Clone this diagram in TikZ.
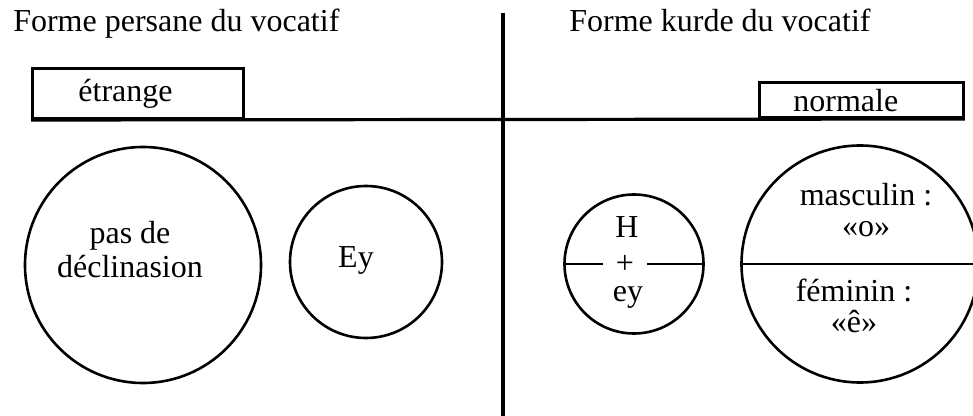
\documentclass[tikz,border=0pt]{standalone}
\usepackage{fontspec}
\setmainfont{Liberation Serif}
\usetikzlibrary{positioning}

\begin{document}
\begin{tikzpicture}[x=0.5pt, y=-0.5pt, line width=1.3pt,
    every node/.style={font=\fontsize{16}{17}\selectfont, inner sep=0pt},
    rond/.style={draw, circle, inner sep=0pt, line width=1.3pt},
    cadre/.style={draw, rectangle, inner ysep=0pt, align=left, anchor=south west, line width=1.4pt}]
    \useasboundingbox (0,0) rectangle (973,416);
    \clip (0,0) rectangle (973,416);

    % Titles of the two halves
    \node[anchor=base west] (titrepersan) at (12,32) {Forme persane du vocatif};
    \node[anchor=base west] (titrekurde) at (568,32) {Forme kurde du vocatif};

    % Boxes sitting on the horizontal line
    \node[cadre, text width=59.5pt, inner xsep=23pt, minimum height=25pt] (etrange) at (31,120) {étrange};
    \node[cadre, text width=68pt, inner xsep=17pt, minimum height=17.5pt] (normale) at (758,119) {normale};

    % Separating lines
    \coordinate (axetop) at (503,13);
    \coordinate (axebot) at (503,416);
    \draw[line width=1.6pt] (axetop) -- (axebot);
    \draw[line width=1.6pt] (etrange.south west) -- (normale.south east);

    % Persian side
    \node[rond, minimum size=118pt] (persan) at (143,265) {};
    \node[align=center] (decl) at (130,250) {pas de\\déclinasion};
    \node[rond, minimum size=76pt] (ey) at (366,262) {};
    \node[anchor=base] (eytxt) at (356,268) {Ey};

    % Kurdish side
    \node[rond, minimum size=69.5pt] (hey) at (634,264) {};
    \node[minimum width=20.5pt] (plus) at ([xshift=-4.5pt]hey.center) {+};
    \draw (hey.west) -- (plus.west);
    \draw (plus.east) -- (hey.east);
    \node[anchor=base] (htxt) at (627,238) {H};
    \node[anchor=base] (eybas) at (628,302) {ey};

    \node[rond, minimum size=118.5pt] (kurde) at (860,264) {};
    \draw (kurde.west) -- (kurde.east);
    \node[align=center, font=\fontsize{16}{15.5}\selectfont] (masc) at (866,210) {masculin :\\«o»};
    \node[align=center, font=\fontsize{16}{15.5}\selectfont] (fem) at (854,306) {féminin :\\«ê»};
\end{tikzpicture}
\end{document}
